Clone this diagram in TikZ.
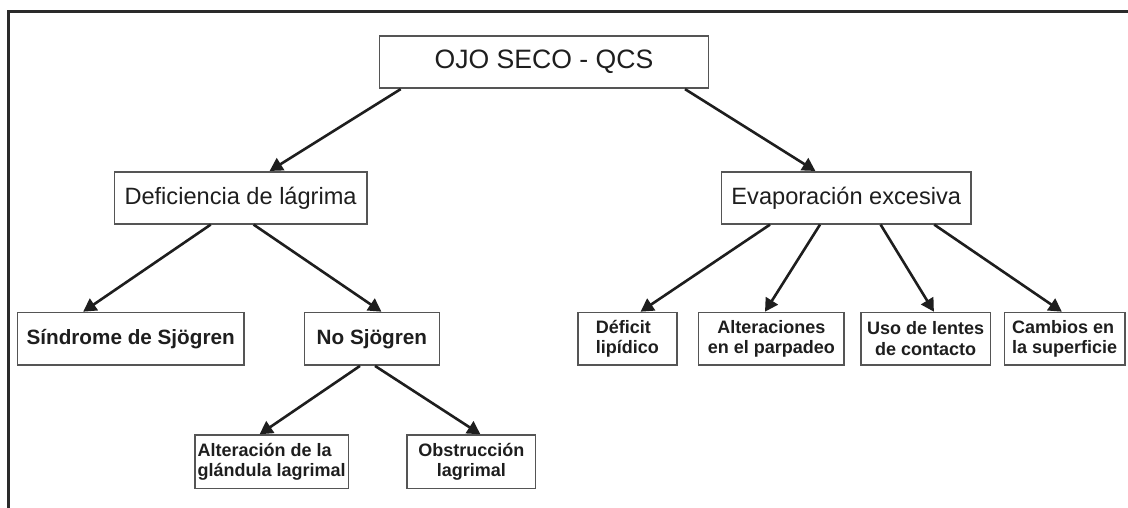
\documentclass[tikz,border=0pt]{standalone}
\usepackage{fontspec}
\setmainfont{Liberation Sans}
\usetikzlibrary{arrows.meta,calc}
\definecolor{ink}{HTML}{1E1E1E}
\definecolor{boxline}{HTML}{555555}
\definecolor{framecol}{HTML}{2A2A2A}
\begin{document}
\begin{tikzpicture}[x=1pt,y=-1pt,
  box/.style={draw=boxline, line width=1.6pt, rectangle, inner sep=0pt, text=ink, anchor=north west},
  bigbox/.style={box, font=\fontsize{26.6}{30}\selectfont},
  midbox/.style={box, font=\fontsize{23.6}{27}\selectfont},
  boldbox/.style={box, font=\fontsize{20.7}{24}\selectfont\bfseries},
  smallbox/.style={box, font=\fontsize{18}{20.5}\selectfont\bfseries},
  arr/.style={draw=ink, line width=2.6pt, -{Triangle[length=13pt,width=14pt]}},
  framel/.style={draw=framecol, line width=3pt}]
\useasboundingbox (0,0) rectangle (1128,508);
\fill[white] (0,0) rectangle (1128,508);
\coordinate (fbl) at (8.5,508);
\coordinate (ftl) at (8.5,12);
\coordinate (ftr) at (1128,12);
\draw[framel] (fbl) -- (ftl) -- (ftr);

\node[bigbox, minimum width=329.2pt, minimum height=52.5pt] (ojo) at (378.6,35) {OJO SECO - QCS};
\node[midbox, minimum width=252.4pt, minimum height=52pt] (def) at (113.6,171) {Deficiencia de lágrima};
\node[midbox, minimum width=249.9pt, minimum height=52pt] (evap) at (720.5,171) {Evaporación excesiva};

\node[boldbox, minimum width=226.1pt, minimum height=52.6pt] (sin) at (16.8,311.7) {Síndrome de Sjögren};
\node[boldbox, minimum width=135pt, minimum height=52.6pt] (nos) at (303.6,311.7) {No Sjögren};

\node[smallbox, minimum width=153.7pt, minimum height=53.4pt, align=left] (alt) at (194,434.3) {Alteración de la\\glándula lagrimal};
\node[smallbox, minimum width=128.2pt, minimum height=53.4pt, align=center] (obs) at (406.4,434.3) {Obstrucción\\lagrimal};

\node[smallbox, minimum width=99pt, minimum height=52.6pt, align=left] (dl) at (577,311.7) {Déficit\\lipídico};
\node[smallbox, minimum width=145.6pt, minimum height=52.6pt, align=center] (ap) at (697.7,311.7) {Alteraciones\\en el parpadeo};
\node[smallbox, minimum width=129.7pt, minimum height=52.6pt, align=center] (uso) at (860,311.7) {Uso de lentes\\de contacto};
\node[smallbox, minimum width=120.6pt, minimum height=52.6pt, align=left] (cam) at (1003.5,311.7) {Cambios en\\la superficie};

\draw[arr] ([xshift=22.1pt]ojo.south west) -- ([xshift=156pt]def.north west);
\draw[arr] ([xshift=306.4pt]ojo.south west) -- ([xshift=94.9pt]evap.north west);
\draw[arr] ([xshift=97.1pt]def.south west) -- ([xshift=66.4pt]sin.north west);
\draw[arr] ([xshift=140pt]def.south west) -- ([xshift=77.8pt]nos.north west);
\draw[arr] ([xshift=56.4pt]nos.south west) -- ([xshift=65.6pt]alt.north west);
\draw[arr] ([xshift=71.4pt]nos.south west) -- ([xshift=74pt]obs.north west);
\draw[arr] ([xshift=49.5pt]evap.south west) -- ([xshift=63.5pt]dl.north west);
\draw[arr] ([xshift=99.5pt]evap.south west) -- ([xshift=67.3pt]ap.north west);
\draw[arr] ([xshift=160.1pt]evap.south west) -- ([xshift=73.9pt]uso.north west);
\draw[arr] ([xshift=213.7pt]evap.south west) -- ([xshift=58.3pt]cam.north west);
\end{tikzpicture}
\end{document}
